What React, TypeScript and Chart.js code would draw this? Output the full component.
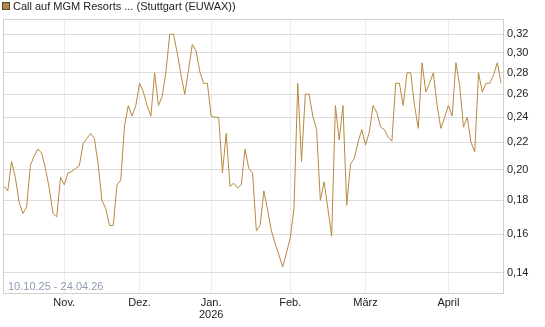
import React, { useEffect, useRef } from 'react';
import { Chart, registerables } from 'chart.js';

Chart.register(...registerables);

const prices: number[] = [
  0.189, 0.186, 0.206, 0.195, 0.179, 0.172, 0.176, 0.203, 0.21, 0.215,
  0.212, 0.201, 0.188, 0.172, 0.17, 0.195, 0.19, 0.198, 0.199, 0.201,
  0.203, 0.219, 0.223, 0.227, 0.223, 0.204, 0.18, 0.175, 0.165, 0.165,
  0.19, 0.193, 0.233, 0.25, 0.241, 0.25, 0.27, 0.262, 0.25, 0.241,
  0.28, 0.25, 0.258, 0.281, 0.32, 0.32, 0.3, 0.278, 0.26, 0.283,
  0.309, 0.302, 0.281, 0.27, 0.27, 0.241, 0.24, 0.24, 0.198, 0.227,
  0.189, 0.191, 0.188, 0.19, 0.215, 0.201, 0.198, 0.162, 0.165, 0.186,
  0.174, 0.162, 0.155, 0.149, 0.143, 0.15, 0.158, 0.175, 0.27, 0.206,
  0.26, 0.26, 0.241, 0.23, 0.18, 0.192, 0.175, 0.159, 0.25, 0.222,
  0.25, 0.177, 0.204, 0.208, 0.22, 0.23, 0.218, 0.228, 0.25, 0.244,
  0.232, 0.23, 0.224, 0.221, 0.27, 0.27, 0.25, 0.28, 0.28, 0.25,
  0.231, 0.29, 0.262, 0.27, 0.28, 0.25, 0.231, 0.24, 0.25, 0.241,
  0.29, 0.268, 0.232, 0.24, 0.22, 0.213, 0.28, 0.262, 0.27, 0.27,
  0.278, 0.29, 0.27,
];

const monthTickIdx: number[] = [16, 36, 55, 76, 96, 118];
const monthLabels: (string | string[])[] = ['Nov.', 'Dez.', ['Jan.', '2026'], 'Feb.', 'März', 'April'];
const yTickValues: number[] = [0.14, 0.16, 0.18, 0.2, 0.22, 0.24, 0.26, 0.28, 0.3, 0.32];
const legendLabel = 'Call auf MGM Resorts ... (Stuttgart (EUWAX))';
const rangeLabel = '10.10.25 - 24.04.26';

const LINE_COLOR = '#b8893e';
const FONT = 'Liberation Sans, Arial, sans-serif';

export default function App() {
  const ref = useRef<HTMLCanvasElement | null>(null);

  useEffect(() => {
    document.body.style.margin = '0';
    const canvas = ref.current;
    if (!canvas) return;

    const decor = {
      id: 'decor',
      beforeDatasetsDraw(chart: any) {
        const { ctx, chartArea } = chart;
        ctx.save();
        ctx.strokeStyle = '#d0d0d0';
        ctx.lineWidth = 1;
        ctx.strokeRect(
          Math.round(chartArea.left) + 0.5,
          Math.round(chartArea.top) + 0.5,
          Math.round(chartArea.right - chartArea.left),
          Math.round(chartArea.bottom - chartArea.top)
        );
        ctx.font = '11px ' + FONT;
        ctx.fillStyle = '#8e9bb0';
        ctx.textBaseline = 'alphabetic';
        ctx.textAlign = 'left';
        ctx.fillText(rangeLabel, chartArea.left + 5, chartArea.bottom - 3);
        ctx.restore();
      },
      afterDraw(chart: any) {
        const { ctx } = chart;
        ctx.save();
        ctx.fillStyle = '#b08a4b';
        ctx.fillRect(2, 2, 8, 8);
        ctx.strokeStyle = '#5a4526';
        ctx.lineWidth = 1;
        ctx.strokeRect(2.5, 2.5, 7, 7);
        ctx.font = '11px ' + FONT;
        ctx.fillStyle = '#222';
        ctx.textBaseline = 'middle';
        ctx.textAlign = 'left';
        ctx.fillText(legendLabel, 13, 6.5);
        ctx.restore();
      },
    };

    const chart = new Chart(canvas, {
      type: 'line',
      data: {
        datasets: [
          {
            label: legendLabel,
            data: prices.map((v, i) => ({ x: i, y: v })),
            borderColor: LINE_COLOR,
            backgroundColor: LINE_COLOR,
            borderWidth: 1,
            pointRadius: 0,
            tension: 0,
            fill: false,
          },
        ],
      },
      options: {
        responsive: false,
        animation: false,
        layout: { padding: { top: 19, left: 3, right: 0, bottom: 0 } },
        plugins: { legend: { display: false }, tooltip: { enabled: false } },
        scales: {
          x: {
            type: 'linear',
            min: -0.27,
            max: 132.5,
            afterBuildTicks: (s: any) => {
              s.ticks = monthTickIdx.map((v) => ({ value: v }));
            },
            afterFit: (s: any) => {
              s.height = 34;
            },
            ticks: {
              autoSkip: false,
              maxRotation: 0,
              padding: 4,
              color: '#222',
              font: { family: FONT, size: 11, lineHeight: 1.1 },
              callback: (v: any) => {
                const k = monthTickIdx.indexOf(Number(v));
                return k >= 0 ? monthLabels[k] : null;
              },
            },
            grid: { color: '#ececec', drawTicks: false },
            border: { display: false },
          },
          y: {
            type: 'logarithmic',
            position: 'right',
            min: 0.1306,
            max: 0.3374,
            afterBuildTicks: (s: any) => {
              s.ticks = yTickValues.map((v) => ({ value: v }));
            },
            afterFit: (s: any) => {
              s.width = 42;
            },
            ticks: {
              padding: 4,
              color: '#222',
              font: { family: FONT, size: 11 },
              callback: (v: any) => Number(v).toFixed(2).replace('.', ','),
            },
            grid: { color: '#dcdcdc', drawTicks: false },
            border: { display: false },
          },
        },
      },
      plugins: [decor],
    } as any);

    return () => chart.destroy();
  }, []);

  return <canvas ref={ref} width={545} height={327} style={{ display: 'block' }} />;
}
